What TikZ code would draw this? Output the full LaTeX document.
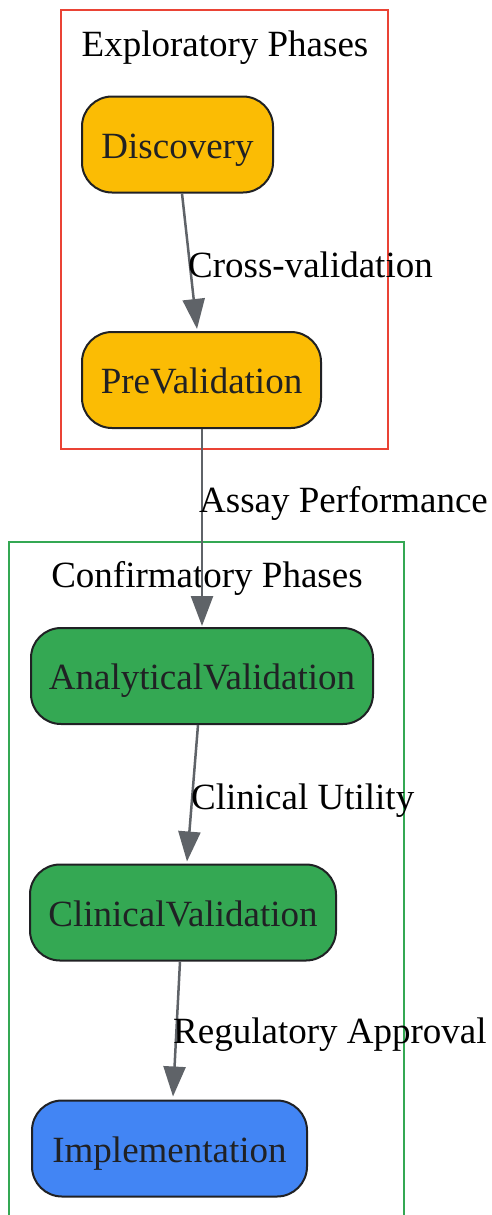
\documentclass[tikz,border=0pt]{standalone}
\usepackage{fontspec}
\setmainfont{Liberation Serif}
\usetikzlibrary{arrows.meta,calc}
\definecolor{cred}{HTML}{EA4335}
\definecolor{cgreen}{HTML}{34A853}
\definecolor{cyellow}{HTML}{FBBC04}
\definecolor{cblue}{HTML}{4285F4}
\definecolor{cedge}{HTML}{5F6368}
\definecolor{cdark}{HTML}{202124}
\tikzset{
  phase/.style={draw=cdark, line width=2pt, rounded corners=30pt, inner sep=0pt,
    minimum height=96pt, text=cdark, font=\fontsize{37}{44}\selectfont,
    text height=35pt, text depth=8pt},
  lbl/.style={anchor=base west, inner sep=0pt, font=\fontsize{37}{44}\selectfont},
  ttl/.style={anchor=base, inner sep=0pt, font=\fontsize{37}{44}\selectfont},
  flow/.style={draw=cedge, line width=2.5pt, -{Triangle[length=30pt,width=22pt]}},
}
\begin{document}
\begin{tikzpicture}[x=1pt,y=-1pt]
\useasboundingbox (0,0) rectangle (492,1215);
% clusters
\draw[cred, line width=2pt] (61,10) rectangle (388,449);
\draw[cgreen, line width=2pt] (9,1216) -- (9,542) -- (404,542) -- (404,1216);
\node[ttl] (t1) at (225,57) {Exploratory Phases};
\node[ttl] (t2) at (207,587) {Confirmatory Phases};
% nodes
\node[phase, fill=cyellow, minimum width=191pt] (disc) at (177.5,144.5) {Discovery};
\node[phase, fill=cyellow, minimum width=239pt] (prev) at (201.5,380) {PreValidation};
\node[phase, fill=cgreen, minimum width=342pt] (ana) at (202,676) {AnalyticalValidation};
\node[phase, fill=cgreen, minimum width=306pt] (clin) at (183,912.5) {ClinicalValidation};
\node[phase, fill=cblue, minimum width=275pt] (impl) at (169.5,1148.5) {Implementation};
% edges
\draw[flow] ($(disc.south)+(4.5,0)$) -- ($(prev.north)+(-4.5,-2)$);
\draw[flow] ($(prev.south)+(0.5,0)$) -- ($(ana.north)+(0,-1)$);
\draw[flow] ($(ana.south)+(-4,0)$) -- ($(clin.north)+(4,-2)$);
\draw[flow] ($(clin.south)+(-3,0)$) -- ($(impl.north)+(3.5,-3)$);
% labels
\node[lbl] (l1) at (188,277) {Cross-validation};
\node[lbl] (l2) at (199,512) {Assay Performance};
\node[lbl] (l3) at (191,809) {Clinical Utility};
\node[lbl] (l4) at (173,1043) {Regulatory Approval};
\end{tikzpicture}
\end{document}
